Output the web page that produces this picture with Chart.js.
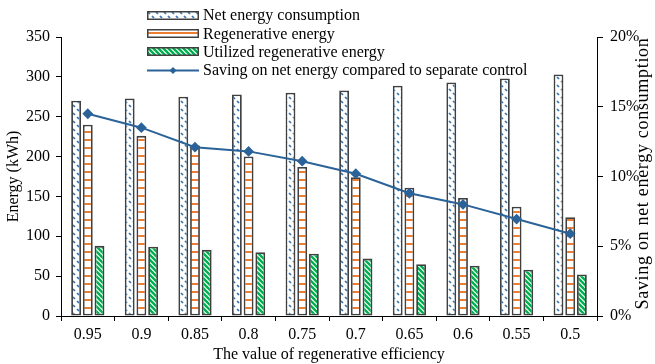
<!DOCTYPE html>
<html>
<head>
<meta charset="utf-8">
<script src="https://cdn.jsdelivr.net/npm/chart.js@4.4.1/dist/chart.umd.min.js"></script>
<style>
  html, body { margin: 0; padding: 0; background: #fff; }
  #wrap { position: relative; width: 655px; height: 364px; }
  #legend { position: absolute; left: 147px; top: 6px; font: 16px 'Liberation Serif', 'Times New Roman', serif; color: #000; }
  .row { display: flex; align-items: center; height: 18.4px; white-space: nowrap; }
  .row canvas { margin-right: 4px; }
</style>
</head>
<body>
<div id="wrap">
  <canvas id="chart" width="655" height="364"></canvas>
  <div id="legend"></div>
</div>
<script>
const categories = ['0.95', '0.9', '0.85', '0.8', '0.75', '0.7', '0.65', '0.6', '0.55', '0.5'];
const netEnergy = [270, 273, 275, 278, 280, 283, 289, 293, 298, 303];
const regenEnergy = [240, 226, 214, 200, 187, 174, 161, 148, 137, 124];
const utilizedEnergy = [88, 87, 83, 80, 78, 72, 65, 63, 58, 52];
const savingPct = [14.5, 13.5, 12.1, 11.8, 11.1, 10.2, 8.8, 8.0, 6.95, 5.9];
const leftTicks = [0, 50, 100, 150, 200, 250, 300, 350];
const rightTicks = [0, 5, 10, 15, 20];

const FONT = "'Liberation Serif', 'Times New Roman', serif";
const BLUE = '#2E75B6';
const ORANGE = '#ED7D31';
const GREEN = '#00B050';
const LINE = '#2b6399';
const EDGE = '#404040';

// small tile patterns like the excel fills
function makePattern(kind) {
    const c = document.createElement('canvas');
    const x = c.getContext('2d');
    if (kind === 'net') {
        c.width = 8; c.height = 8;
        x.fillStyle = '#fff'; x.fillRect(0, 0, 8, 8);
        x.strokeStyle = BLUE; x.lineWidth = 1.7;
        x.beginPath();
        x.moveTo(1, 1); x.lineTo(3, 3);
        x.moveTo(5, 5); x.lineTo(7, 7);
        x.stroke();
    } else if (kind === 'regen') {
        c.width = 4; c.height = 8;
        x.fillStyle = '#fff'; x.fillRect(0, 0, 4, 8);
        x.fillStyle = ORANGE; x.fillRect(0, 3, 4, 2);
    } else {
        const s = 5;
        c.width = s; c.height = s;
        x.fillStyle = '#fff'; x.fillRect(0, 0, s, s);
        x.strokeStyle = GREEN; x.lineWidth = 2.4;
        x.beginPath();
        for (const k of [-s, 0, s]) {
            x.moveTo(-1, k - 1); x.lineTo(s + 1, s + k + 1);
        }
        x.stroke();
    }
    return document.getElementById('chart').getContext('2d').createPattern(c, 'repeat');
}

const netFill = makePattern('net');
const regenFill = makePattern('regen');
const utilFill = makePattern('util');

// right axis title reads bottom-to-top, chart.js can't rotate it that way
const rightTitle = {
    id: 'rightTitle',
    afterDraw(chart) {
        const a = chart.chartArea;
        const ctx = chart.ctx;
        ctx.save();
        ctx.translate(643, (a.top + a.bottom) / 2 - 3);
        ctx.rotate(-Math.PI / 2);
        ctx.font = '18px ' + FONT;
        ctx.letterSpacing = '0.7px';
        ctx.fillStyle = '#000';
        ctx.textAlign = 'center';
        ctx.textBaseline = 'middle';
        ctx.fillText('Saving on net energy consumption', 0, 0);
        ctx.restore();
    }
};

const barCommon = { borderColor: EDGE, borderWidth: 1.8, borderSkipped: false, barPercentage: 0.84, categoryPercentage: 0.655, yAxisID: 'y' };

new Chart(document.getElementById('chart'), {
    type: 'bar',
    data: {
        labels: categories,
        datasets: [
            { type: 'line', label: 'Saving on net energy compared to separate control', data: savingPct, yAxisID: 'y1',
              borderColor: LINE, backgroundColor: LINE, borderWidth: 2, pointStyle: 'rectRot', pointRadius: 4, fill: false, order: 0 },
            Object.assign({ label: 'Net energy consumption', data: netEnergy, backgroundColor: netFill, order: 1 }, barCommon),
            Object.assign({ label: 'Regenerative energy', data: regenEnergy, backgroundColor: regenFill, order: 1 }, barCommon),
            Object.assign({ label: 'Utilized regenerative energy', data: utilizedEnergy, backgroundColor: utilFill, order: 1 }, barCommon)
        ]
    },
    options: {
        responsive: false,
        animation: false,
        layout: { padding: { top: 37, left: 0, right: 0, bottom: 0 } },
        plugins: { legend: { display: false }, tooltip: { enabled: false } },
        scales: {
            x: {
                offset: true,
                grid: { offset: true, drawOnChartArea: false, color: '#000', tickLength: 5 },
                border: { color: '#000', width: 1 },
                ticks: { color: '#000', font: { family: FONT, size: 16 }, padding: 4, maxRotation: 0 },
                title: { display: true, text: 'The value of regenerative efficiency', color: '#000', font: { family: FONT, size: 16 }, padding: { top: 0, bottom: 0 } },
                afterFit(s) { s.height = 48; }
            },
            y: {
                position: 'left', min: 0, max: 350,
                afterBuildTicks(s) { s.ticks = leftTicks.map(v => ({ value: v })); },
                grid: { drawOnChartArea: false, color: '#000', tickLength: 5 },
                border: { color: '#000', width: 1 },
                ticks: { color: '#000', font: { family: FONT, size: 16 }, padding: 6 },
                title: { display: true, text: 'Energy (kWh)', color: '#000', font: { family: FONT, size: 16 } },
                afterFit(s) { s.width = 61; }
            },
            y1: {
                position: 'right', min: 0, max: 20,
                afterBuildTicks(s) { s.ticks = rightTicks.map(v => ({ value: v })); },
                grid: { drawOnChartArea: false, color: '#000', tickLength: 6 },
                border: { color: '#000', width: 1 },
                ticks: { color: '#000', font: { family: FONT, size: 16 }, padding: 7, callback: v => v + '%' },
                afterFit(s) { s.width = 58; }
            }
        }
    },
    plugins: [rightTitle]
});

// legend drawn as html rows with little canvas swatches
const legendItems = [
    { text: 'Net energy consumption', fill: netFill },
    { text: 'Regenerative energy', fill: regenFill },
    { text: 'Utilized regenerative energy', fill: utilFill },
    { text: 'Saving on net energy compared to separate control', line: true }
];
const legendEl = document.getElementById('legend');
legendItems.forEach(item => {
    const row = document.createElement('div');
    row.className = 'row';
    const sw = document.createElement('canvas');
    sw.width = 52; sw.height = 9;
    const g = sw.getContext('2d');
    if (item.line) {
        g.strokeStyle = LINE; g.lineWidth = 2;
        g.beginPath(); g.moveTo(0, 4.5); g.lineTo(52, 4.5); g.stroke();
        g.fillStyle = LINE;
        g.beginPath(); g.moveTo(26, 1); g.lineTo(29.5, 4.5); g.lineTo(26, 8); g.lineTo(22.5, 4.5); g.closePath(); g.fill();
    } else {
        g.fillStyle = item.fill; g.fillRect(1, 1, 50, 7);
        g.strokeStyle = EDGE; g.lineWidth = 1.5; g.strokeRect(0.75, 0.75, 50.5, 7.5);
    }
    row.appendChild(sw);
    const span = document.createElement('span');
    span.textContent = item.text;
    row.appendChild(span);
    legendEl.appendChild(row);
});
</script>
</body>
</html>
